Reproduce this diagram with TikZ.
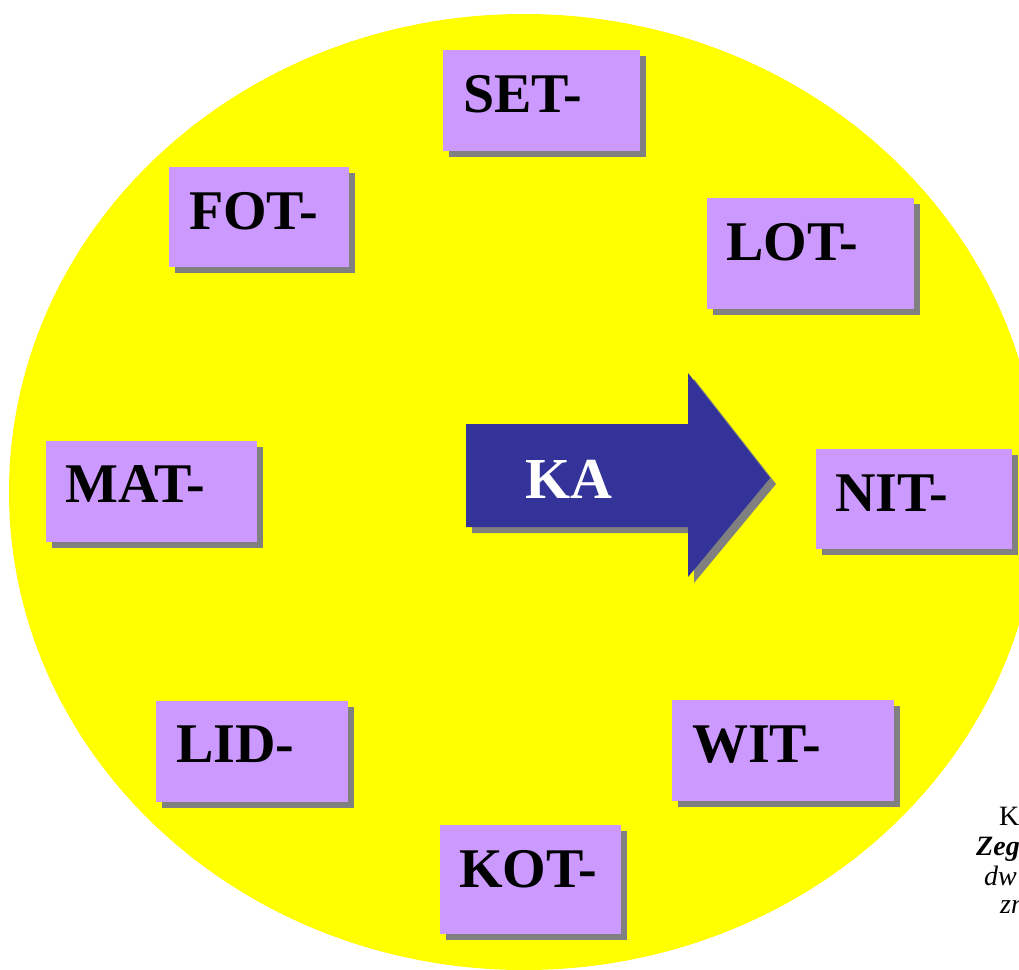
\documentclass[tikz,border=0pt]{standalone}
\usepackage{fontspec}
\setmainfont{Liberation Serif}
\usetikzlibrary{shadows}
\definecolor{clockyellow}{HTML}{FFFF00}
\definecolor{stemviolet}{HTML}{CC99FF}
\definecolor{arrowblue}{HTML}{333399}
\definecolor{shadowgray}{HTML}{808080}

\begin{document}
\begin{tikzpicture}[
    x=1pt, y=-1pt,
    flatshadow/.style={drop shadow={shadow xshift=6pt, shadow yshift=-6pt, fill=shadowgray, opacity=1}},
    stembox/.style={rectangle, draw=none, fill=stemviolet, anchor=north west, inner sep=0pt, flatshadow},
    syllable/.style={anchor=base west, inner sep=0pt, text=black, font=\fontsize{56}{60}\selectfont\bfseries},
    note/.style={anchor=base west, inner sep=0pt, text=black, font=\fontsize{28}{30}\selectfont}
]
\useasboundingbox (0,0) rectangle (1019,969);
\clip (0,0) rectangle (1019,969);

% clock face
\fill[clockyellow] (524,492) ellipse [x radius=515pt, y radius=478pt];

% syllables round the clock
\node (Stem01) [stembox, minimum width=197pt, minimum height=101pt] at (443,50) {};
\node (Txt01) [syllable] at ([shift={(20pt,-62pt)}]Stem01.north west) {SET-};
\node (Stem02) [stembox, minimum width=180pt, minimum height=100pt] at (169,167) {};
\node (Txt02) [syllable] at ([shift={(20pt,-62pt)}]Stem02.north west) {FOT-};
\node (Stem03) [stembox, minimum width=207pt, minimum height=111pt] at (707,198) {};
\node (Txt03) [syllable] at ([shift={(19pt,-62pt)}]Stem03.north west) {LOT-};
\node (Stem04) [stembox, minimum width=211pt, minimum height=101pt] at (46,441) {};
\node (Txt04) [syllable] at ([shift={(19pt,-61pt)}]Stem04.north west) {MAT-};
\node (Stem05) [stembox, minimum width=196pt, minimum height=100pt] at (816,449) {};
\node (Txt05) [syllable] at ([shift={(19pt,-62pt)}]Stem05.north west) {NIT-};
\node (Stem06) [stembox, minimum width=192pt, minimum height=101pt] at (156,701) {};
\node (Txt06) [syllable] at ([shift={(20pt,-61pt)}]Stem06.north west) {LID-};
\node (Stem07) [stembox, minimum width=222pt, minimum height=101pt] at (672,700) {};
\node (Txt07) [syllable] at ([shift={(20pt,-62pt)}]Stem07.north west) {WIT-};
\node (Stem08) [stembox, minimum width=181pt, minimum height=109pt] at (440,825) {};
\node (Txt08) [syllable] at ([shift={(19pt,-62pt)}]Stem08.north west) {KOT-};

% the hand
\fill[arrowblue, flatshadow] (466,424) -- (688,424) -- (688,373) -- (770,478)
    -- (688,577) -- (688,527) -- (466,527) -- cycle;
\node (Hand) [syllable, text=white, font=\fontsize{58}{60}\selectfont\bfseries] at (525,498) {KA};

% caption, cut off at the edge
\node (Cap01) [note] at (999,825) {K};
\node (Cap02) [note, font=\fontsize{28}{30}\selectfont\bfseries\itshape] at (976,855) {Zeg};
\node (Cap03) [note, font=\fontsize{28}{30}\selectfont\itshape] at (984,885) {dw};
\node (Cap04) [note, font=\fontsize{28}{30}\selectfont\itshape] at (1000,913) {zn};
\end{tikzpicture}
\end{document}
